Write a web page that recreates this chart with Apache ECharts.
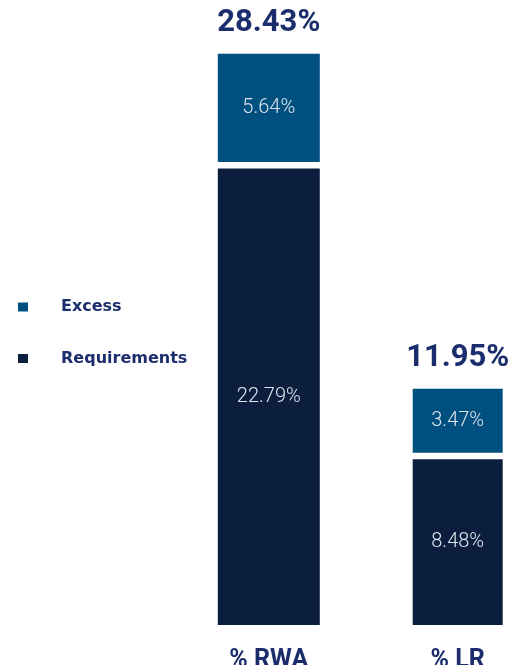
<!DOCTYPE html>
<html>
<head>
<meta charset="utf-8">
<script src="https://cdn.jsdelivr.net/npm/echarts@6/dist/echarts.min.js"></script>
<style>
  html, body { margin: 0; padding: 0; background: #ffffff; }
  #chart { width: 512px; height: 665px; }
</style>
</head>
<body>
<div id="chart"></div>
<script>
// Capital ratios: requirements plus excess, per measure
const categories = ['% RWA', '% LR'];
const requirements = [22.79, 8.48];
const excess = [5.64, 3.47];
const totals = [28.43, 11.95];

const NAVY_TEXT = '#1b2d6c';
const EXCESS_COLOR = '#00507f';
const REQ_COLOR = '#0b1e3d';
const SEG_LABEL = '#dde5ee';

const chart = echarts.init(document.getElementById('chart'), null, { renderer: 'canvas' });

const segLabel = {
  show: true,
  position: 'inside',
  color: SEG_LABEL,
  fontFamily: 'Roboto',
  fontWeight: 300,
  fontSize: 20,
  formatter: p => p.value.toFixed(2) + '%'
};

// Each measure sits on its own category axis so the two columns can have different widths
function only(arr, i) {
  return arr.map((v, k) => (k === i ? v : '-'));
}

// White border: drawn inside each block, so neighbouring blocks are split by 2 * border
const border = 3.25;
const widths = [102 + 2 * border, 90 + 2 * border];

const series = [];
[0, 1].forEach(i => {
  series.push({
    name: 'Requirements',
    type: 'bar',
    stack: 'm' + i,
    xAxisIndex: i,
    barWidth: widths[i],
    data: only(requirements, i),
    itemStyle: { color: REQ_COLOR, borderColor: '#ffffff', borderWidth: border },
    label: segLabel,
    emphasis: { disabled: true }
  });
  series.push({
    name: 'Excess',
    type: 'bar',
    stack: 'm' + i,
    xAxisIndex: i,
    barWidth: widths[i],
    data: only(excess, i),
    itemStyle: { color: EXCESS_COLOR, borderColor: '#ffffff', borderWidth: border },
    label: segLabel,
    emphasis: { disabled: true }
  });
});

// Totals printed above each column
series.push({
  name: 'Total',
  type: 'scatter',
  xAxisIndex: 0,
  symbolSize: 0,
  data: totals,
  itemStyle: { opacity: 1 },
  label: {
    show: true,
    position: 'top',
    distance: 12,
    color: NAVY_TEXT,
    fontFamily: 'Roboto',
    fontWeight: 'bold',
    fontSize: 31,
    formatter: p => p.value.toFixed(2) + '%'
  },
  emphasis: { disabled: true }
});

const option = {
  animation: false,
  backgroundColor: '#ffffff',
  legend: {
    data: ['Excess', 'Requirements'],
    orient: 'vertical',
    left: 11,
    top: 292,
    icon: 'rect',
    itemWidth: 12,
    itemHeight: 11,
    itemGap: 31.6,
    selectedMode: false,
    textStyle: {
      color: NAVY_TEXT,
      fontFamily: 'DejaVu Sans',
      fontWeight: 'bold',
      fontSize: 16,
      lineHeight: 20,
      padding: [0, 0, 0, 27]
    }
  },
  grid: {
    left: 174.35,
    width: 377.8,
    top: 18.65,
    bottom: 36.75,
    containLabel: false,
    outerBoundsMode: 'none'
  },
  xAxis: [
    {
      type: 'category',
      data: categories,
      axisLine: { show: false },
      axisTick: { show: false },
      axisLabel: {
        margin: 20,
        color: NAVY_TEXT,
        fontFamily: 'Roboto',
        fontWeight: 'bold',
        fontSize: 25
      }
    },
    {
      type: 'category',
      data: categories,
      show: false,
      position: 'bottom'
    }
  ],
  yAxis: { type: 'value', min: 0, max: 30, show: false },
  series: series
};

chart.setOption(option);
</script>
</body>
</html>
